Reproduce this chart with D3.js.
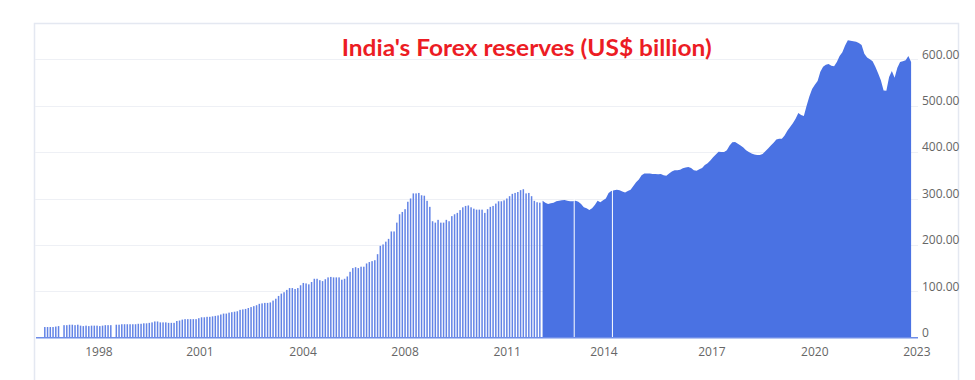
<!DOCTYPE html>
<html>
<head>
<meta charset="utf-8">
<script src="https://cdn.jsdelivr.net/npm/d3@7"></script>
<style>
  html, body { margin: 0; padding: 0; background: #ffffff; }
  svg { display: block; }
</style>
</head>
<body>
<svg id="chart" width="975" height="380"></svg>
<script>
// ---------- DATA ----------
const title = "India's Forex reserves (US$ billion)";

// Early period: one column per slot (null = missing slot)
const barValues = [
  23,23,23,23,24,25,null,27,27,28,28,27,28,26,25,26,25,26,26,26,
  25,26,27,27,27,null,28,28,29,29,29,29,29,29,30,30,31,31,32,33,
  35,35,33,33,33,32,32,32,36,37,39,40,40,40,40,40,42,44,44,45,
  45,46,47,48,50,52,52,54,55,56,57,60,61,62,64,66,68,70,73,74,
  75,75,76,80,84,90,95,98,103,107,107,105,107,113,118,117,115,120,127,127,
  124,122,126,130,131,130,130,130,125,127,132,142,150,152,150,153,153,160,163,165,
  167,180,198,201,207,213,229,229,248,266,271,277,293,300,311,311,312,307,306,295,
  282,251,248,254,248,248,254,251,262,266,269,275,281,284,285,281,278,276,276,276,
  269,277,282,284,289,294,294,296,300,305,310,312,314,318,320,311,312,305,295,292,
  291
];

// Later period: continuous series, starting at slot index areaStart
const areaStart = 181;
const areaValues = [
  295,291,288,290,291,294,295,296,297,295,294,294,295,293,288,281,279,275,279,286,
  295,292,296,300,312,316,318,319,318,315,313,316,319,327,335,341,350,354,354,354,
  353,353,352,353,350,349,354,358,361,361,362,365,367,368,366,361,360,363,366,372,
  376,382,389,395,401,400,400,404,414,421,422,418,414,410,404,400,397,395,394,394,
  396,402,408,414,420,427,429,429,436,446,454,462,472,484,480,478,500,520,536,545,
  553,573,584,588,590,586,585,594,607,615,630,641,640,639,638,635,631,612,604,600,
  596,584,570,555,533,532,562,575,560,582,594,596,598,607,594
];

// Missing observations inside the later period (slot positions)
const breakSlots = [192.5, 206.4];

// X axis tick labels and the slot where each one sits
const tickLabels = ["1998","2001","2004","2008","2011","2014","2017","2020","2023"];
const tickSlots  = [19.7, 56.4, 93.9, 131.0, 168.1, 203.3, 242.6, 280.0, 317.1];

// Y axis ticks
const yTicks = [0, 100, 200, 300, 400, 500, 600];

// ---------- LAYOUT ----------
const svg = d3.select("#chart");
const slotCount = 316;

const x = d3.scaleLinear().domain([0, slotCount - 1]).range([44.8, 911.1]);
const y = d3.scaleLinear().domain([0, 600]).range([337.7, 59.3]);

const gridLeft = 35, gridRight = 918;

// Frame
svg.append("rect")
  .attr("x", 34.5).attr("y", 23.5)
  .attr("width", 924).attr("height", 400)
  .attr("fill", "#ffffff")
  .attr("stroke", "#e4e8f1").attr("stroke-width", 1.5);

// Gridlines
svg.append("g").selectAll("line").data(yTicks.filter(d => d > 0)).join("line")
  .attr("x1", gridLeft).attr("x2", gridRight)
  .attr("y1", d => Math.round(y(d)) + 0.5).attr("y2", d => Math.round(y(d)) + 0.5)
  .attr("stroke", "#eef0f5").attr("stroke-width", 1);

// Bars (early period)
const barW = 1.5;
svg.append("g").selectAll("rect")
  .data(barValues.map((v, i) => ({ i, v })).filter(d => d.v !== null))
  .join("rect")
  .attr("x", d => x(d.i) - barW / 2)
  .attr("y", d => y(d.v))
  .attr("width", barW)
  .attr("height", d => y(0) - y(d.v))
  .attr("fill", "#6384e6");

// Area (later period)
const areaData = areaValues.map((v, k) => ({ i: areaStart + k, v }));
const area = d3.area()
  .x(d => x(d.i))
  .y0(y(0))
  .y1(d => y(d.v))
  .curve(d3.curveLinear);
svg.append("path")
  .datum(areaData)
  .attr("d", area)
  .attr("fill", "#4a72e3");

// Break lines inside the area
svg.append("g").selectAll("line").data(breakSlots).join("line")
  .attr("x1", d => x(d)).attr("x2", d => x(d))
  .attr("y1", y(0)).attr("y2", y(330))
  .attr("stroke", "#ffffff").attr("stroke-width", 1);

// Baseline
svg.append("line")
  .attr("x1", 36).attr("x2", gridRight)
  .attr("y1", y(0)).attr("y2", y(0))
  .attr("stroke", "#6f8de8").attr("stroke-width", 1.6);

// Y axis labels (right side)
svg.append("g").selectAll("text").data(yTicks).join("text")
  .attr("x", 922)
  .attr("y", d => y(d) - 5)
  .attr("dy", "0.35em")
  .attr("font-family", "'Open Sans', sans-serif")
  .attr("font-size", 12)
  .attr("fill", "#666666")
  .text(d => d === 0 ? "0" : d3.format(".2f")(d));

// X axis labels
svg.append("g").selectAll("text").data(tickLabels).join("text")
  .attr("x", (d, k) => x(tickSlots[k]))
  .attr("y", 352)
  .attr("dy", "0.35em")
  .attr("text-anchor", "middle")
  .attr("font-family", "'Open Sans', sans-serif")
  .attr("font-size", 12)
  .attr("fill", "#666666")
  .text(d => d);

// Title
svg.append("text")
  .attr("x", 526.7)
  .attr("y", 56.3)
  .attr("text-anchor", "middle")
  .attr("font-family", "Lato, 'Open Sans', sans-serif")
  .attr("font-weight", "bold")
  .attr("font-size", 22)
  .attr("fill", "#ec1c24")
  .attr("textLength", 370)
  .attr("lengthAdjust", "spacingAndGlyphs")
  .text(title);
</script>
</body>
</html>
